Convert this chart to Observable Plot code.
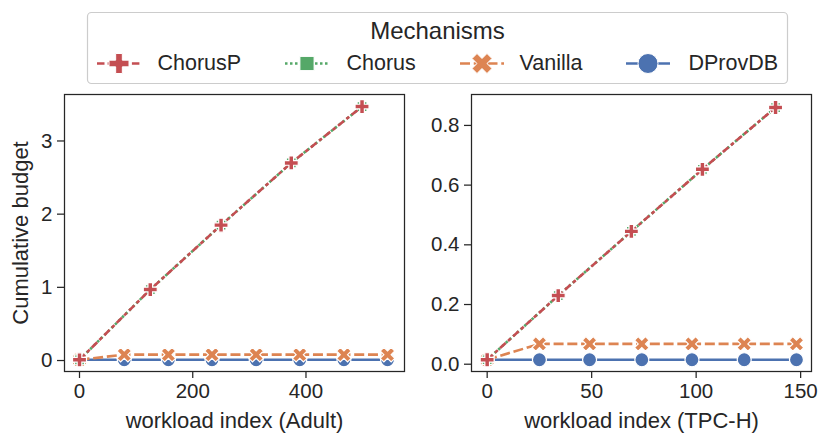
<!DOCTYPE html>
<html>
<head>
<meta charset="utf-8">
<script src="https://cdn.jsdelivr.net/npm/d3@7"></script>
<script src="https://cdn.jsdelivr.net/npm/@observablehq/plot@0.6"></script>
<style>
  html, body { margin: 0; padding: 0; background: white; }
  #page { position: relative; width: 830px; height: 443px; overflow: hidden; font-family: "Liberation Sans", Arial, sans-serif; color: #262626; }
  .panel { position: absolute; top: 85px; }
  #legend { position: absolute; left: 0; top: 0; }
</style>
</head>
<body>
<div id="page">
  <svg id="legend" width="830" height="90"></svg>
  <div id="left" class="panel" style="left:0px"></div>
  <div id="right" class="panel" style="left:415px"></div>
</div>
<script>
// ---------- data ----------
const seriesNames = ["DProvDB", "Vanilla", "Chorus", "ChorusP"];   // drawing order
const legendOrder = ["ChorusP", "Chorus", "Vanilla", "DProvDB"];
const legendTitle = "Mechanisms";

// Adult workload
const adultChorusX   = [0, 125, 250, 374, 499];
const adultChorusPY  = [0.01, 0.97, 1.85, 2.70, 3.47];
const adultChorusY   = [0.01, 0.97, 1.85, 2.70, 3.47];
const adultOtherX    = [0, 79, 157, 234, 312, 389, 467, 544];
const adultVanillaY  = [0.01, 0.08, 0.08, 0.08, 0.08, 0.08, 0.08, 0.08];
const adultDProvDBY  = [0.01, 0.01, 0.01, 0.01, 0.01, 0.01, 0.01, 0.01];
const adultXTicks = [0, 200, 400];
const adultYTicks = [0, 1, 2, 3];

// TPC-H workload
const tpchChorusX   = [0, 34, 69, 103, 138];
const tpchChorusPY  = [0.015, 0.23, 0.445, 0.653, 0.86];
const tpchChorusY   = [0.015, 0.23, 0.445, 0.653, 0.86];
const tpchOtherX    = [0, 25, 49, 74, 98, 123, 148];
const tpchVanillaY  = [0.015, 0.068, 0.068, 0.068, 0.068, 0.068, 0.068];
const tpchDProvDBY  = [0.015, 0.015, 0.015, 0.015, 0.015, 0.015, 0.015];
const tpchXTicks = [0, 50, 100, 150];
const tpchYTicks = [0, 0.2, 0.4, 0.6, 0.8];

// ---------- styles ----------
const INK = "#262626";
const FONT = "Liberation Sans, Arial, sans-serif";
const styleOf = {
  DProvDB: { color: "#4C72B0", dash: null,               symbol: "circle", r: 7 },
  Vanilla: { color: "#DD8452", dash: "10,3.75",          symbol: "X",      r: 7.3 },
  Chorus:  { color: "#55A868", dash: "2.5,2.5",          symbol: "square", r: 5.6 },
  ChorusP: { color: "#C44E52", dash: "7.5,3.1,3.75,3.1", symbol: "P",      r: 7 }
};

// filled plus and filled X shapes (matplotlib "P" / "X")
function plusPoints(r) {
  const t = r / 3;
  return [[-t,-r],[t,-r],[t,-t],[r,-t],[r,t],[t,t],[t,r],[-t,r],[-t,t],[-r,t],[-r,-t],[-t,-t]];
}
const plusShape = {
  draw(ctx, size) {
    const r = Math.sqrt(size / Math.PI);
    const p = plusPoints(r);
    ctx.moveTo(p[0][0], p[0][1]);
    for (let i = 1; i < p.length; i++) ctx.lineTo(p[i][0], p[i][1]);
    ctx.closePath();
  }
};
const xShape = {
  draw(ctx, size) {
    const r = Math.sqrt(size / Math.PI) * 1.06;
    const c = Math.SQRT1_2;
    const p = plusPoints(r).map(([x, y]) => [c * (x - y), c * (x + y)]);
    ctx.moveTo(p[0][0], p[0][1]);
    for (let i = 1; i < p.length; i++) ctx.lineTo(p[i][0], p[i][1]);
    ctx.closePath();
  }
};
const symbolOf = { circle: "circle", square: "square", P: plusShape, X: xShape };
const d3SymbolOf = { circle: d3.symbolCircle, square: d3.symbolSquare, P: plusShape, X: xShape };

function rows(xs, ys) { return xs.map((x, i) => ({ x, y: ys[i] })); }

function makeChart(cfg) {
  const marks = [];
  for (const name of seriesNames) {
    const s = styleOf[name];
    const data = cfg.series[name];
    marks.push(Plot.line(data, {
      x: "x", y: "y", stroke: s.color, strokeWidth: 2.6,
      strokeDasharray: s.dash || undefined, strokeLinecap: "butt"
    }));
    marks.push(Plot.dot(data, {
      x: "x", y: "y", symbol: symbolOf[s.symbol], r: s.r,
      fill: s.color, stroke: "white", strokeWidth: 1.2
    }));
  }
  return Plot.plot({
    width: 415,
    height: 358,
    marginLeft: cfg.marginLeft,
    marginRight: cfg.marginRight,
    marginTop: 9,
    marginBottom: 72,
    style: { fontFamily: FONT, fontSize: "20.5px", color: INK, background: "white", overflow: "visible" },
    x: { type: "linear", domain: cfg.xDomain },
    y: { type: "linear", domain: cfg.yDomain },
    marks: [
      Plot.axisX({ ticks: cfg.xTicks, tickSize: 7, tickPadding: 5, label: null, strokeWidth: 1.25, fontSize: 20.5 }),
      Plot.axisY({ ticks: cfg.yTicks, tickSize: 7, tickPadding: 5, label: null, strokeWidth: 1.25, fontSize: 20.5, tickFormat: cfg.yFormat }),
      ...marks,
      Plot.frame({ stroke: INK, strokeWidth: 1.25 }),
      Plot.text([cfg.xLabel], { frameAnchor: "bottom", lineAnchor: "middle", textAnchor: "middle", dy: 49, fontSize: 22, fill: INK }),
      ...(cfg.yLabel ? [Plot.text([cfg.yLabel], { frameAnchor: "left", lineAnchor: "middle", textAnchor: "middle", dx: -44, rotate: -90, fontSize: 22, fill: INK })] : [])
    ]
  });
}

const left = makeChart({
  series: {
    DProvDB: rows(adultOtherX, adultDProvDBY),
    Vanilla: rows(adultOtherX, adultVanillaY),
    Chorus:  rows(adultChorusX, adultChorusY),
    ChorusP: rows(adultChorusX, adultChorusPY)
  },
  xDomain: [-26.5, 574], yDomain: [-0.15, 3.635],
  xTicks: adultXTicks, yTicks: adultYTicks, yFormat: d3.format("d"),
  marginLeft: 64, marginRight: 11,
  xLabel: "workload index (Adult)", yLabel: "Cumulative budget"
});
document.getElementById("left").appendChild(left);

const right = makeChart({
  series: {
    DProvDB: rows(tpchOtherX, tpchDProvDBY),
    Vanilla: rows(tpchOtherX, tpchVanillaY),
    Chorus:  rows(tpchChorusX, tpchChorusY),
    ChorusP: rows(tpchChorusX, tpchChorusPY)
  },
  xDomain: [-7.5, 155.2], yDomain: [-0.0244, 0.9036],
  xTicks: tpchXTicks, yTicks: tpchYTicks, yFormat: d3.format(".1f"),
  marginLeft: 56, marginRight: 19,
  xLabel: "workload index (TPC-H)", yLabel: null
});
document.getElementById("right").appendChild(right);

// ---------- legend ----------
const legendLayout = { box: [87.5, 12.5, 700, 71], titleX: 437.5, titleY: 38.5, rowY: 70, markerY: 63.5,
  handles: [97, 285, 460, 626], texts: [157.5, 346.5, 519.5, 688.5], handleLen: 44 };
const lg = d3.select("#legend");
const [bx, by, bw, bh] = legendLayout.box;
lg.append("rect").attr("x", bx).attr("y", by).attr("width", bw).attr("height", bh)
  .attr("rx", 4).attr("fill", "white").attr("stroke", "#cccccc").attr("stroke-width", 1.2);
lg.append("text").attr("x", legendLayout.titleX).attr("y", legendLayout.titleY)
  .attr("text-anchor", "middle").attr("font-family", FONT).attr("font-size", 24).attr("fill", INK)
  .text(legendTitle);
legendOrder.forEach((name, i) => {
  const s = styleOf[name];
  const hx = legendLayout.handles[i], my = legendLayout.markerY;
  lg.append("line").attr("x1", hx).attr("x2", hx + legendLayout.handleLen)
    .attr("y1", my).attr("y2", my).attr("stroke", s.color).attr("stroke-width", 2.6)
    .attr("stroke-dasharray", s.dash || null);
  const sym = d3.symbol(d3SymbolOf[s.symbol], Math.PI * (s.symbol === "square" ? 64 : 100));
  lg.append("path").attr("d", sym()).attr("transform", `translate(${hx + legendLayout.handleLen / 2},${my})`)
    .attr("fill", s.color).attr("stroke", "white").attr("stroke-width", 1);
  lg.append("text").attr("x", legendLayout.texts[i]).attr("y", legendLayout.rowY)
    .attr("font-family", FONT).attr("font-size", 21.5).attr("fill", INK).text(name);
});
</script>
</body>
</html>
